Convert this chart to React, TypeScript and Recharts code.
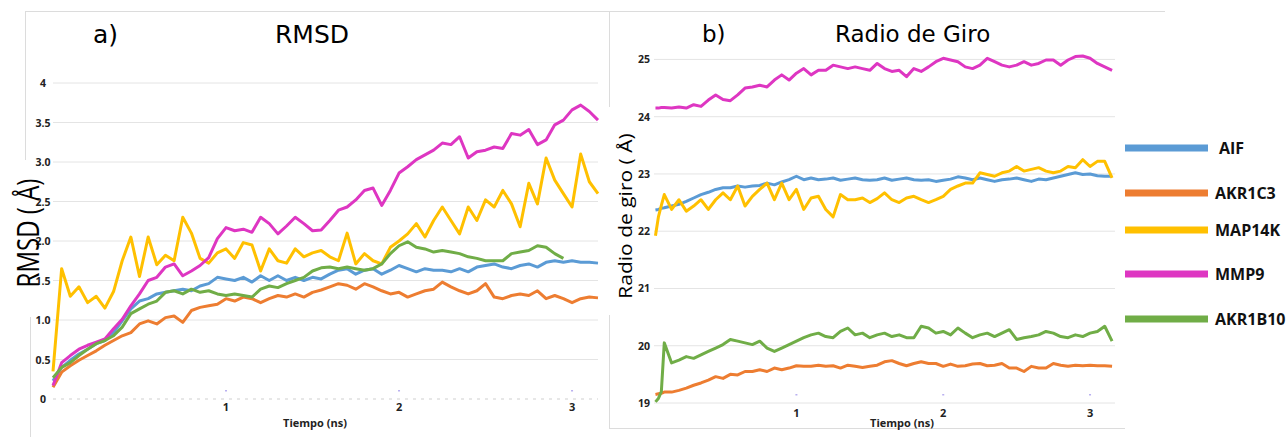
import { LineChart, Line, XAxis, YAxis, CartesianGrid } from "recharts";

const SERIES = ["AIF", "AKR1C3", "MAP14K", "MMP9", "AKR1B10"];
const COLORS: Record<string, string> = {
  AIF: "#5B9BD5",
  AKR1C3: "#ED7D31",
  MAP14K: "#FFC000",
  MMP9: "#DE36C2",
  AKR1B10: "#70AD47",
};

// a) RMSD, time in ns
const TIME_A = [
  0, 0.05, 0.1, 0.15, 0.2, 0.25, 0.3, 0.35, 0.4, 0.45,
  0.5, 0.55, 0.6, 0.65, 0.7, 0.75, 0.8, 0.85, 0.9, 0.95,
  1, 1.05, 1.1, 1.15, 1.2, 1.25, 1.3, 1.35, 1.4, 1.45,
  1.5, 1.55, 1.6, 1.65, 1.7, 1.75, 1.8, 1.85, 1.9, 1.95,
  2, 2.05, 2.1, 2.15, 2.2, 2.25, 2.3, 2.35, 2.4, 2.45,
  2.5, 2.55, 2.6, 2.65, 2.7, 2.75, 2.8, 2.85, 2.9, 2.95,
  3, 3.05, 3.1, 3.15,
];
const RMSD_AIF = [
  0.23, 0.4, 0.49, 0.57, 0.63, 0.7, 0.74, 0.84, 0.99, 1.14,
  1.24, 1.27, 1.33, 1.35, 1.37, 1.39, 1.37, 1.43, 1.46, 1.54,
  1.52, 1.5, 1.54, 1.48, 1.56, 1.5, 1.56, 1.5, 1.54, 1.5,
  1.54, 1.52, 1.58, 1.63, 1.65, 1.58, 1.63, 1.65, 1.58, 1.63,
  1.69, 1.65, 1.61, 1.65, 1.63, 1.63, 1.61, 1.65, 1.61, 1.67,
  1.69, 1.71, 1.67, 1.65, 1.69, 1.71, 1.67, 1.73, 1.75, 1.73,
  1.75, 1.73, 1.73, 1.72,
];
const RMSD_AKR1C3 = [
  0.15, 0.34, 0.42, 0.49, 0.55, 0.61, 0.68, 0.74, 0.8, 0.84,
  0.95, 0.99, 0.95, 1.03, 1.05, 0.97, 1.12, 1.16, 1.18, 1.2,
  1.27, 1.24, 1.29, 1.27, 1.22, 1.27, 1.31, 1.29, 1.33, 1.29,
  1.35, 1.38, 1.42, 1.46, 1.44, 1.39, 1.46, 1.42, 1.37, 1.33,
  1.35, 1.29, 1.33, 1.37, 1.39, 1.48, 1.42, 1.37, 1.33, 1.37,
  1.46, 1.29, 1.27, 1.31, 1.33, 1.31, 1.37, 1.27, 1.31, 1.27,
  1.22, 1.27, 1.29, 1.28,
];
const RMSD_MAP14K = [
  0.35, 1.65, 1.3, 1.42, 1.22, 1.3, 1.15, 1.36, 1.75, 2.05,
  1.55, 2.05, 1.7, 1.82, 1.75, 2.3, 2.1, 1.78, 1.72, 1.85,
  1.9, 1.78, 1.98, 1.95, 1.62, 1.9, 1.75, 1.72, 1.9, 1.8,
  1.85, 1.88, 1.8, 1.75, 2.1, 1.71, 1.84, 1.75, 1.71, 1.92,
  2.0, 2.09, 2.22, 2.05, 2.26, 2.43, 2.26, 2.09, 2.43, 2.26,
  2.52, 2.43, 2.64, 2.47, 2.18, 2.73, 2.47, 3.05, 2.77, 2.6,
  2.43, 3.1, 2.75, 2.6,
];
const RMSD_MMP9 = [
  0.17, 0.46, 0.55, 0.63, 0.68, 0.72, 0.76, 0.89, 1.01, 1.18,
  1.33, 1.5, 1.54, 1.67, 1.71, 1.56, 1.62, 1.69, 1.79, 2.03,
  2.17, 2.13, 2.15, 2.11, 2.3, 2.22, 2.09, 2.19, 2.3, 2.22,
  2.13, 2.14, 2.26, 2.39, 2.43, 2.52, 2.64, 2.67, 2.45, 2.64,
  2.86, 2.94, 3.03, 3.09, 3.15, 3.24, 3.22, 3.32, 3.05, 3.13,
  3.15, 3.19, 3.17, 3.36, 3.34, 3.41, 3.22, 3.28, 3.47, 3.53,
  3.66, 3.72, 3.64, 3.53,
];
const RMSD_AKR1B10 = [
  0.27, 0.4, 0.46, 0.55, 0.63, 0.7, 0.74, 0.8, 0.91, 1.08,
  1.14, 1.2, 1.24, 1.35, 1.37, 1.33, 1.39, 1.35, 1.37, 1.33,
  1.31, 1.33, 1.31, 1.29, 1.39, 1.43, 1.41, 1.46, 1.5, 1.54,
  1.62, 1.66, 1.67, 1.65, 1.67, 1.65, 1.63, 1.65, 1.71, 1.84,
  1.94, 1.99, 1.92, 1.9, 1.86, 1.88, 1.86, 1.84, 1.8, 1.78,
  1.75, 1.75, 1.75, 1.84, 1.86, 1.88, 1.94, 1.92, 1.84, 1.78,
  null, null, null, null,
];
const RMSD_TICKS = [0, 0.5, 1, 1.5, 2, 2.5, 3, 3.5, 4];
const RMSD_TICK_LABELS = ["0", "0.5", "1.0", "1.5", "2.0", "2.5", "3.0", "3.5", "4"];

// b) Radio de giro
const TIME_B = [
  0.04, 0.06, 0.08, 0.1,
  0.15, 0.2, 0.25, 0.3, 0.35, 0.4, 0.45, 0.5, 0.55, 0.6,
  0.65, 0.7, 0.75, 0.8, 0.85, 0.9, 0.95, 1, 1.05, 1.1,
  1.15, 1.2, 1.25, 1.3, 1.35, 1.4, 1.45, 1.5, 1.55, 1.6,
  1.65, 1.7, 1.75, 1.8, 1.85, 1.9, 1.95, 2, 2.05, 2.1,
  2.15, 2.2, 2.25, 2.3, 2.35, 2.4, 2.45, 2.5, 2.55, 2.6,
  2.65, 2.7, 2.75, 2.8, 2.85, 2.9, 2.95, 3, 3.05, 3.1,
  3.15,
];
const RG_AIF = [
  22.37, 22.38, 22.4, 22.41,
  22.44, 22.47, 22.52, 22.58, 22.64, 22.68, 22.73, 22.76, 22.76, 22.79,
  22.77, 22.79, 22.8, 22.84, 22.81, 22.86, 22.9, 22.96, 22.9, 22.93,
  22.9, 22.91, 22.93, 22.89, 22.91, 22.93, 22.9, 22.89, 22.9, 22.93,
  22.89, 22.91, 22.93, 22.9, 22.89, 22.9, 22.87, 22.89, 22.91, 22.95,
  22.93, 22.9, 22.93, 22.9, 22.87, 22.9, 22.91, 22.93, 22.9, 22.87,
  22.91, 22.9, 22.93, 22.96, 22.99, 23.02, 22.99, 23.0, 22.97, 22.96,
  22.96,
];
const RG_AKR1C3 = [
  19.15, 19.16, 19.17, 19.19,
  19.19, 19.22, 19.26, 19.31, 19.35, 19.4, 19.46, 19.43, 19.5, 19.49,
  19.55, 19.55, 19.58, 19.55, 19.61, 19.58, 19.61, 19.65, 19.64, 19.64,
  19.66, 19.64, 19.65, 19.61, 19.66, 19.64, 19.62, 19.64, 19.66, 19.72,
  19.74, 19.69, 19.65, 19.69, 19.72, 19.69, 19.69, 19.64, 19.68, 19.64,
  19.65, 19.68, 19.69, 19.65, 19.66, 19.69, 19.61, 19.61, 19.55, 19.64,
  19.61, 19.61, 19.69, 19.66, 19.64, 19.66, 19.65, 19.66, 19.65, 19.65,
  19.64,
];
const RG_MAP14K = [
  21.92, 22.25, 22.45, 22.64,
  22.38, 22.55, 22.35, 22.44, 22.55, 22.38, 22.55, 22.67, 22.55, 22.79,
  22.44, 22.61, 22.73, 22.84, 22.55, 22.84, 22.55, 22.73, 22.38, 22.58,
  22.61, 22.38, 22.25, 22.64, 22.55, 22.55, 22.58, 22.5, 22.57, 22.67,
  22.55, 22.5, 22.58, 22.61, 22.55, 22.5, 22.55, 22.61, 22.73, 22.79,
  22.84, 22.84, 23.02, 22.99, 22.96, 23.02, 23.05, 23.13, 23.05, 23.08,
  23.11, 23.05, 23.02, 23.05, 23.13, 23.11, 23.25, 23.13, 23.22, 23.22,
  22.93,
];
const RG_MMP9 = [
  24.15, 24.15, 24.16, 24.16,
  24.15, 24.17, 24.15, 24.21, 24.18, 24.29, 24.38, 24.3, 24.28, 24.38,
  24.5, 24.52, 24.55, 24.52, 24.64, 24.73, 24.64, 24.76, 24.84, 24.73,
  24.81, 24.81, 24.9, 24.87, 24.84, 24.87, 24.84, 24.81, 24.93, 24.84,
  24.79, 24.81, 24.7, 24.84, 24.79, 24.87, 24.96, 25.02, 24.99, 24.96,
  24.87, 24.84, 24.9, 25.02, 24.96, 24.9, 24.87, 24.9, 24.96, 24.9,
  24.93, 24.99, 24.99, 24.9, 24.99, 25.05, 25.06, 25.02, 24.93, 24.87,
  24.81,
];
const RG_AKR1B10 = [
  19.02, 19.08, 19.2, 20.05,
  19.7, 19.75, 19.81, 19.78, 19.84, 19.9, 19.96, 20.02, 20.11, 20.08,
  20.05, 20.02, 20.08, 19.96, 19.9, 19.96, 20.02, 20.08, 20.14, 20.19,
  20.22, 20.16, 20.14, 20.25, 20.31, 20.19, 20.22, 20.14, 20.19, 20.22,
  20.16, 20.19, 20.14, 20.14, 20.34, 20.31, 20.22, 20.25, 20.19, 20.31,
  20.22, 20.14, 20.19, 20.22, 20.16, 20.22, 20.28, 20.11, 20.14, 20.16,
  20.19, 20.25, 20.22, 20.16, 20.14, 20.19, 20.16, 20.22, 20.25, 20.34,
  20.08,
];
const RG_TICKS = [19, 20, 21, 22, 23, 24, 25];
const X_TICKS = [1, 2, 3];

const rmsdData = TIME_A.map((t, i) => ({
  t,
  AIF: RMSD_AIF[i],
  AKR1C3: RMSD_AKR1C3[i],
  MAP14K: RMSD_MAP14K[i],
  MMP9: RMSD_MMP9[i],
  AKR1B10: RMSD_AKR1B10[i],
}));

const rgData = TIME_B.map((t, i) => ({
  t,
  AIF: RG_AIF[i],
  AKR1C3: RG_AKR1C3[i],
  MAP14K: RG_MAP14K[i],
  MMP9: RG_MMP9[i],
  AKR1B10: RG_AKR1B10[i],
}));

const TICK_FONT = "'Open Sans', sans-serif";

function YTick({ x, y, payload, labels, ticks }: any) {
  const idx = ticks ? ticks.indexOf(payload.value) : -1;
  const label = labels && idx >= 0 ? labels[idx] : String(payload.value);
  return (
    <text x={x} y={y} textAnchor="middle" dominantBaseline="central"
      fontFamily={TICK_FONT} fontWeight={700} fontSize={10.5} fill="#222">
      {label}
    </text>
  );
}

function XTick({ x, y, payload, gap }: any) {
  return (
    <g>
      <rect x={x - 1} y={y - gap - 9} width={2} height={1.5} fill="#b9b0f0" />
      <text x={x} y={y} dy="0.71em" textAnchor="middle"
        fontFamily={TICK_FONT} fontWeight={700} fontSize={11} fill="#222">
        {payload.value}
      </text>
    </g>
  );
}

function renderLines() {
  return SERIES.map((s) => (
    <Line key={s} type="linear" dataKey={s} stroke={COLORS[s]} strokeWidth={3}
      strokeLinejoin="round" dot={false} activeDot={false} isAnimationActive={false} />
  ));
}

const LEGEND_Y = [148, 193, 230, 274, 319];

export default function App() {
  return (
    <div style={{ position: "absolute", left: 0, top: 0, width: 1287, height: 437, background: "#fff", overflow: "hidden" }}>
      <div style={{ position: "absolute", left: 0, top: 0 }}>
        <LineChart width={620} height={437} data={rmsdData}
          margin={{ top: 83, right: 22, bottom: 18, left: 23 }}>
          <CartesianGrid vertical={false} stroke="#e4e4e4" horizontalValues={RMSD_TICKS.slice(1)} />
          <XAxis type="number" dataKey="t" domain={[0, 3.15]} ticks={X_TICKS} height={20}
            tickSize={0} tickMargin={4}
            axisLine={{ stroke: "#cfcfcf", strokeDasharray: "3 5" }}
            tick={<XTick gap={4} />} />
          <YAxis type="number" domain={[0, 4]} ticks={RMSD_TICKS} width={30}
            axisLine={false} tickLine={false} tickSize={0} tickMargin={10}
            tick={<YTick labels={RMSD_TICK_LABELS} ticks={RMSD_TICKS} />} />
          {renderLines()}
        </LineChart>
      </div>
      <div style={{ position: "absolute", left: 610, top: 0 }}>
        <LineChart width={520} height={437} data={rgData}
          margin={{ top: 56, right: 15, bottom: 14, left: 14 }}>
          <CartesianGrid vertical={false} stroke="#e4e4e4" horizontalValues={RG_TICKS} />
          <XAxis type="number" dataKey="t" domain={[0.03, 3.17]} ticks={X_TICKS} height={20}
            tickSize={0} tickMargin={6} axisLine={false}
            tick={<XTick gap={6} />} />
          <YAxis type="number" domain={[19, 25]} ticks={RG_TICKS} width={30}
            axisLine={false} tickLine={false} tickSize={0} tickMargin={10}
            tick={<YTick />} />
          {renderLines()}
        </LineChart>
      </div>
      <svg width={1287} height={437} style={{ position: "absolute", left: 0, top: 0, pointerEvents: "none" }}>
        <g stroke="#dcdcdc" strokeWidth={1}>
          <line x1={25} y1={11.5} x2={1165} y2={11.5} />
          <line x1={25.5} y1={11} x2={25.5} y2={160} />
          <line x1={30.5} y1={317} x2={30.5} y2={437} />
          <line x1={609.5} y1={11} x2={609.5} y2={107} />
          <line x1={609.5} y1={315} x2={609.5} y2={428} />
          <line x1={609} y1={428.5} x2={1125} y2={428.5} />
        </g>
        <g fontFamily="'DejaVu Sans', sans-serif" fill="#000">
          <text x={93} y={43} fontSize={25}>a)</text>
          <text x={275} y={43} fontSize={25}>RMSD</text>
          <text x={702} y={42} fontSize={23}>b)</text>
          <text x={835} y={42} fontSize={23}>Radio de Giro</text>
        </g>
        <g fontFamily="'Open Sans', sans-serif" fill="#000">
          <text transform="translate(27,233) scale(1.3,1) rotate(-90)" textAnchor="middle"
            dominantBaseline="central" fontSize={24}>RMSD ( Å)</text>
          <text transform="translate(625,216) scale(0.85,1) rotate(-90)" textAnchor="middle"
            dominantBaseline="central" fontSize={21}>Radio de giro ( Å)</text>
        </g>
        <g fontFamily={TICK_FONT} fontWeight={700} fontSize={11} fill="#222" textAnchor="middle">
          <text x={315} y={427}>Tiempo (ns)</text>
          <text x={902} y={427}>Tiempo (ns)</text>
        </g>
        {SERIES.map((s, i) => (
          <g key={s}>
            <line x1={1125} x2={1208} y1={LEGEND_Y[i]} y2={LEGEND_Y[i]} stroke={COLORS[s]} strokeWidth={7} />
            <text x={s === "AIF" ? 1219 : 1215} y={LEGEND_Y[i]} dominantBaseline="central"
              fontFamily={TICK_FONT} fontWeight={700} fontSize={16} fill="#111">{s}</text>
          </g>
        ))}
      </svg>
    </div>
  );
}
